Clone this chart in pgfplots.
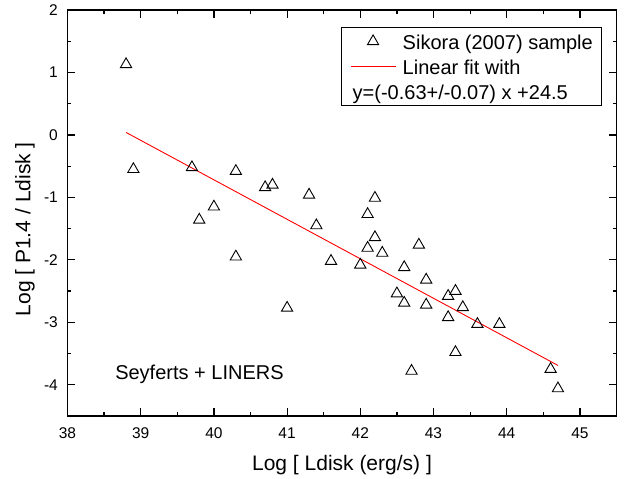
\documentclass[border=0pt]{standalone}
\usepackage{pgfplots}
\pgfplotsset{compat=1.18}
\usepackage{fontspec}
\setmainfont{Liberation Sans}
\usetikzlibrary{calc}

\pgfplotsset{
    trilegend/.style={legend image code/.code={\draw[##1] plot coordinates {(22.5bp,0bp)};}},
    linelegend/.style={legend image code/.code={\draw[##1] (0bp,0bp) -- (45bp,0bp);}},
}

\begin{document}
\begin{tikzpicture}
    \begin{axis}[
        scale only axis,
        width=549bp, height=406bp,
        xmin=38, xmax=45.5,
        ymin=-4.5, ymax=2,
        xtick={38,39,40,41,42,43,44,45},
        xticklabels={38,39,40,41,42,43,44,45},
        ytick={-4,-3,-2,-1,0,1,2},
        yticklabels={-4,-3,-2,-1,0,1,2},
        minor tick num=1,
        tick align=inside,
        major tick length=8bp,
        minor tick length=4bp,
        tick style={line width=1.2bp, black},
        axis line style={line width=1.5bp},
        xticklabel style={font=\fontsize{15.5bp}{18bp}\selectfont, anchor=base, inner sep=0pt, yshift=-22bp},
        yticklabel style={font=\fontsize{15.5bp}{18bp}\selectfont, anchor=east, inner sep=0pt, xshift=-9.5bp},
        xlabel={Log [ Ldisk (erg/s) ]},
        ylabel={Log [ P1.4 / Ldisk ]},
        label style={font=\fontsize{21bp}{25bp}\selectfont},
        xlabel style={at={(axis description cs:0.5,0)}, anchor=base, yshift=-54.7bp},
        ylabel style={at={($(axis description cs:0,0.46)+(-42.5bp,0bp)$)}, anchor=center},
        legend cell align=left,
        legend style={
            at={(axis description cs:0.4977,0.9581)}, anchor=north west,
            draw=black, line width=0.8bp, fill=white,
            inner xsep=9bp, inner ysep=1.5bp,
            column sep=6.7bp, row sep=0bp,
            font=\fontsize{20bp}{24bp}\selectfont,
            nodes={inner sep=0pt, text height=20.5bp, text depth=4.5bp},
        },
    ]
        % Sikora (2007) sample
        \addplot[only marks, mark=triangle, mark size=6.5bp, black,
                 mark options={line width=0.9bp}, trilegend]
        coordinates {
            (38.80, 1.13)
            (38.90,-0.55)
            (39.70,-0.52)
            (39.80,-1.36)
            (40.00,-1.15)
            (40.30,-0.58)
            (40.30,-1.95)
            (40.70,-0.84)
            (40.80,-0.80)
            (41.00,-2.77)
            (41.30,-0.96)
            (41.40,-1.45)
            (41.60,-2.02)
            (42.00,-2.08)
            (42.10,-1.27)
            (42.10,-1.81)
            (42.20,-1.01)
            (42.20,-1.64)
            (42.30,-1.89)
            (42.50,-2.54)
            (42.60,-2.12)
            (42.60,-2.69)
            (42.70,-3.78)
            (42.80,-1.76)
            (42.90,-2.32)
            (42.90,-2.72)
            (43.20,-2.58)
            (43.20,-2.92)
            (43.30,-2.50)
            (43.30,-3.48)
            (43.40,-2.76)
            (43.60,-3.03)
            (43.90,-3.03)
            (44.60,-3.75)
            (44.70,-4.06)
        };
        \addlegendentry{\makebox[190bp][l]{Sikora (2007) sample}}

        % linear fit
        \addplot[red, line width=0.9bp, no markers, linelegend]
        coordinates {
            (38.8, 0.04)
            (44.7,-3.69)
        };
        \addlegendentry{Linear fit with}

        \addlegendimage{empty legend}
        \addlegendentry{\hspace*{-50bp}y=(-0.63+/-0.07) x +24.5}

        \node[anchor=base west, inner sep=0pt, font=\fontsize{20bp}{24bp}\selectfont]
            at (axis cs:38.65,-3.92) {Seyferts + LINERS};
    \end{axis}
    \path[use as bounding box] ($(current axis.south west)+(-67.5bp,-62bp)$)
        rectangle ($(current axis.north east)+(10.5bp,10bp)$);
\end{tikzpicture}
\end{document}
